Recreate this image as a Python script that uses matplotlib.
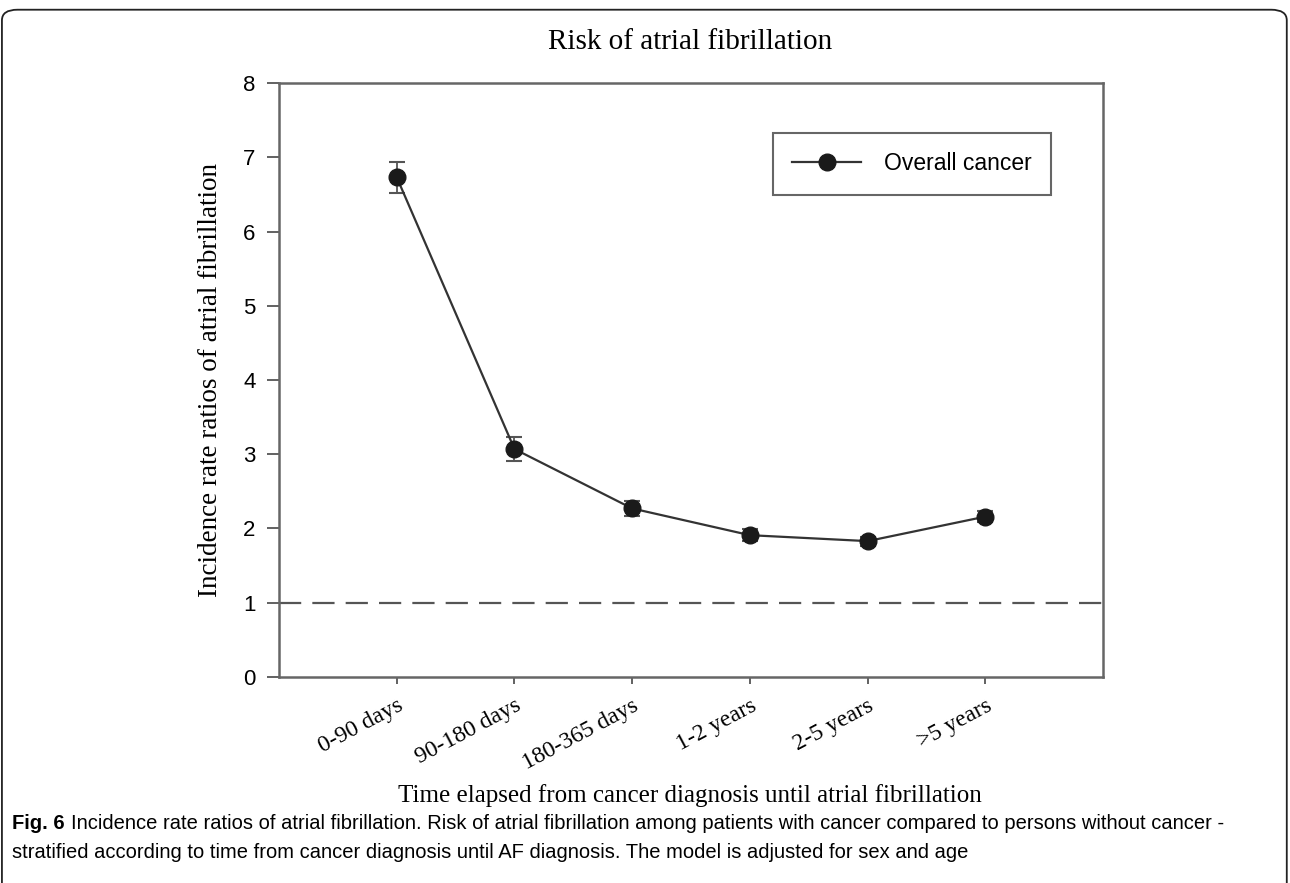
import numpy as np
import matplotlib
matplotlib.use("Agg")
import matplotlib.pyplot as plt
from matplotlib.patches import FancyBboxPatch

# periods since cancer diagnosis
periods = ["0-90 days", "90-180 days", "180-365 days", "1-2 years", "2-5 years", ">5 years"]
irr = [6.73, 3.07, 2.27, 1.91, 1.83, 2.16]
lower = [6.52, 2.91, 2.17, 1.83, 1.77, 2.09]
upper = [6.94, 3.23, 2.37, 1.99, 1.89, 2.23]
reference = 1.0

serif = ["Liberation Serif", "DejaVu Serif"]
sans = ["Liberation Sans", "DejaVu Sans"]
narrow = ["Liberation Sans Narrow", "Liberation Sans", "DejaVu Sans"]

fig = plt.figure(figsize=(12.9, 8.83), dpi=100)
ax = fig.add_axes([0.2163, 0.2333, 0.6388, 0.6727])

x = np.arange(1, len(periods) + 1)
y = np.array(irr)
yerr = [y - np.array(lower), np.array(upper) - y]

ax.axhline(reference, color="#555555", lw=1.6, ls=(0, (10, 5)), zorder=1)
ax.errorbar(x, y, yerr=yerr, fmt="none", ecolor="#555555", elinewidth=1.3,
            capsize=6, capthick=1.5, zorder=2)
ax.plot(x, y, color="#333333", lw=1.6, marker="o", markersize=12,
        markerfacecolor="#1a1a1a", markeredgecolor="#1a1a1a", zorder=3,
        label="Overall cancer")

ax.set_xlim(0, 7)
ax.set_ylim(0, 8)
ax.set_xticks(x)
ax.set_xticklabels(periods, rotation=28, ha="right", rotation_mode="anchor",
                   family=serif, fontsize=17)
ax.set_yticks(range(0, 9))
ax.set_yticklabels([str(i) for i in range(0, 9)], family=sans, fontsize=16)
ax.tick_params(axis="x", direction="out", length=5, width=1.3, color="#555555", pad=8)
ax.tick_params(axis="y", direction="out", length=9, width=1.3, color="#555555", pad=8)
for s in ax.spines.values():
    s.set_color("#666666")
    s.set_linewidth(1.8)

ax.set_ylabel("Incidence rate ratios of atrial fibrillation", family=serif,
              fontsize=19.5, labelpad=14)
fig.text(0.535, 0.099, "Time elapsed from cancer diagnosis until atrial fibrillation",
         family=serif, fontsize=18, ha="center", va="center")
fig.text(0.535, 0.952, "Risk of atrial fibrillation", family=serif, fontsize=21,
         ha="center", va="center")

leg = ax.legend(loc="upper right", bbox_to_anchor=(0.937, 0.916),
                prop={"family": sans, "size": 16.5}, fancybox=False, framealpha=1,
                edgecolor="#666666", handlelength=3.0, borderpad=0.85,
                borderaxespad=0, handletextpad=1.0)
leg.get_frame().set_linewidth(1.5)
leg._legend_box.align = "left"

# caption under the figure
fig.text(0.009, 0.067, "Fig. 6", family=narrow, fontsize=14.5, weight="bold",
         ha="left", va="center")
fig.text(0.055, 0.067,
         "Incidence rate ratios of atrial fibrillation. Risk of atrial fibrillation among "
         "patients with cancer compared to persons without cancer -",
         family=narrow, fontsize=14.5, ha="left", va="center")
fig.text(0.009, 0.034,
         "stratified according to time from cancer diagnosis until AF diagnosis. "
         "The model is adjusted for sex and age",
         family=narrow, fontsize=14.5, ha="left", va="center")

# rounded frame around the figure panel
frame = FancyBboxPatch((0.0015, -0.2), 0.996, 1.189,
                       boxstyle="round,pad=0,rounding_size=0.012",
                       transform=fig.transFigure, fill=False,
                       edgecolor="#222222", lw=1.3)
fig.patches.append(frame)

fig.savefig("out.png", dpi=100)
